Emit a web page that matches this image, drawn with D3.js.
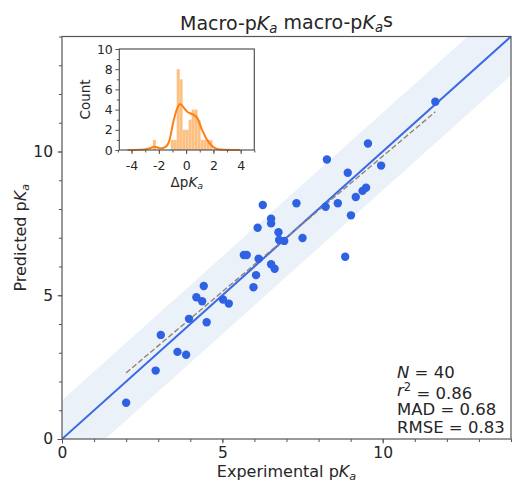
<!DOCTYPE html>
<html>
<head>
<meta charset="utf-8">
<script src="https://cdn.jsdelivr.net/npm/d3@7"></script>
<style>
  body { margin: 0; background: #fff; }
  svg { display: block; font-family: "DejaVu Sans", sans-serif; }
</style>
</head>
<body>
<div id="chart"></div>
<script>
// Experimental vs predicted pKa
const expPKa = [2.0, 2.92, 3.08, 3.6, 3.87, 3.96, 4.51, 4.19, 4.37, 4.42,
    5.02, 5.2, 5.97, 6.05, 6.52, 6.63, 5.67, 5.76, 6.13, 6.77,
    6.93, 6.75, 7.5, 6.1, 6.52, 6.52, 6.26, 7.31, 8.22, 8.6,
    8.83, 9.01, 9.16, 9.37, 9.48, 8.91, 8.26, 9.95, 9.54, 11.64];
const predPKa = [1.26, 2.38, 3.62, 3.03, 2.93, 4.18, 4.06, 4.93, 4.79, 5.32,
    4.85, 4.71, 5.28, 5.70, 6.08, 5.92, 6.40, 6.40, 6.27, 6.92,
    6.89, 7.19, 6.99, 7.35, 7.50, 7.66, 8.14, 8.20, 8.08, 8.20,
    6.34, 7.78, 8.42, 8.63, 8.74, 9.26, 9.72, 9.51, 10.28, 11.73];

// fitted line end points (dashed)
const regX = [2.0, 11.64];
const regY = [2.3, 11.38];

// shaded band half width around y = x
const bandHalfWidth = 1.35;

// inset histogram of residuals
const binEdges = [-2.44, -2.22, -2.00, -1.78, -1.57, -1.35, -1.13, -0.91, -0.69, -0.47,
    -0.26, -0.04, 0.18, 0.40, 0.62, 0.84, 1.06, 1.28, 1.49, 1.71, 1.93];
const binCounts = [1, 0, 0, 0, 0, 0, 1, 1, 8, 7, 2, 2, 3, 4, 4, 3, 1, 1, 1, 1];
const kdeX = [-4.3, -3.1, -2.6, -2.37, -2.1, -1.88, -1.5, -1.26, -0.9, -0.66,
    -0.42, -0.17, 0.07, 0.44, 0.8, 1.17, 1.54, 1.9, 2.27, 2.75, 3.97];
const kdeY = [0, 0.05, 0.2, 0.33, 0.25, 0.15, 0.3, 0.8, 3.0, 4.1,
    4.55, 4.2, 3.8, 3.56, 3.2, 2.0, 1.0, 0.4, 0.1, 0.02, 0];

const mainTicks = [0, 5, 10];
const insetXTicks = [-4, -2, 0, 2, 4];
const insetYTicks = [0, 2, 4, 6, 8, 10];

const stats = [
    { label: 'N', italic: true, value: '40' },
    { label: 'r', italic: true, sup: '2', value: '0.86' },
    { label: 'MAD', value: '0.68' },
    { label: 'RMSE', value: '0.83' }
];

const W = 512, H = 484;
const axColor = '#555';
const textColor = '#262626';
const blue = '#2f62e3';

const svg = d3.select('#chart').append('svg')
    .attr('width', W)
    .attr('height', H);

// helper for "pKa" style labels
function pKa(sel, prefix, suffix) {
    sel.append('tspan').text(prefix + 'p');
    sel.append('tspan').attr('font-style', 'italic').text('K');
    sel.append('tspan').attr('font-style', 'italic').attr('font-size', '0.7em')
        .attr('dy', '0.25em').text('a');
    if (suffix) sel.append('tspan').attr('dy', '-0.25em').text(suffix);
}

// main axes
const x = d3.scaleLinear().domain([0, 14]).range([62, 511]);
const y = d3.scaleLinear().domain([0, 14]).range([439, 36.5]);

svg.append('defs').append('clipPath').attr('id', 'clip')
    .append('rect')
    .attr('x', x(0)).attr('y', y(14))
    .attr('width', x(14) - x(0)).attr('height', y(0) - y(14));

const plot = svg.append('g').attr('clip-path', 'url(#clip)');

// band around identity
plot.append('path')
    .datum([0, 14])
    .attr('fill', '#ebf1f9')
    .attr('d', d3.area()
        .x(d => x(d))
        .y0(d => y(d - bandHalfWidth))
        .y1(d => y(d + bandHalfWidth)));

// identity line
plot.append('line')
    .attr('x1', x(0)).attr('y1', y(0))
    .attr('x2', x(14)).attr('y2', y(14))
    .attr('stroke', '#3b68e4')
    .attr('stroke-width', 2);

// regression (dashed)
plot.append('line')
    .attr('x1', x(regX[0])).attr('y1', y(regY[0]))
    .attr('x2', x(regX[1])).attr('y2', y(regY[1]))
    .attr('stroke', '#8f8575')
    .attr('stroke-width', 1.4)
    .attr('stroke-dasharray', '5.5,2.4');

// points
plot.selectAll('.dot')
    .data(expPKa)
    .enter()
    .append('circle')
    .attr('class', 'dot')
    .attr('cx', d => x(d))
    .attr('cy', (d, i) => y(predPKa[i]))
    .attr('r', 4.2)
    .attr('fill', blue);

// axis ticks
const xAxis = svg.append('g')
    .attr('transform', `translate(0,${y(0)})`)
    .call(d3.axisBottom(x).tickValues(mainTicks).tickSize(4.5).tickPadding(3.5));
svg.append('g')
    .attr('transform', `translate(0,${y(0)})`)
    .call(d3.axisBottom(x).tickValues(d3.range(0, 15)).tickSize(3).tickFormat(''));
const yAxis = svg.append('g')
    .attr('transform', `translate(${x(0)},0)`)
    .call(d3.axisLeft(y).tickValues(mainTicks).tickSize(4.5).tickPadding(4.5));
svg.append('g')
    .attr('transform', `translate(${x(0)},0)`)
    .call(d3.axisLeft(y).tickValues(d3.range(0, 15)).tickSize(3).tickFormat(''));

svg.selectAll('.domain').remove();
svg.selectAll('.tick line').attr('stroke', axColor);
[xAxis, yAxis].forEach(a => a.selectAll('text')
    .attr('fill', textColor)
    .style('font-size', '15.5px')
    .style('font-family', 'DejaVu Sans'));

// frame
svg.append('rect')
    .attr('x', x(0)).attr('y', y(14))
    .attr('width', x(14) - x(0)).attr('height', y(0) - y(14))
    .attr('fill', 'none')
    .attr('stroke', axColor)
    .attr('stroke-width', 1.2);

// labels
svg.append('text')
    .attr('x', (x(0) + x(14)) / 2).attr('y', 477)
    .attr('text-anchor', 'middle')
    .attr('font-size', 16)
    .attr('fill', textColor)
    .call(pKa, 'Experimental ');

svg.append('text')
    .attr('transform', `translate(26,${(y(0) + y(14)) / 2}) rotate(-90)`)
    .attr('text-anchor', 'middle')
    .attr('font-size', 16)
    .attr('fill', textColor)
    .call(pKa, 'Predicted ');

const title = svg.append('text')
    .attr('x', (x(0) + x(14)) / 2).attr('y', 30)
    .attr('text-anchor', 'middle')
    .attr('font-size', 19)
    .attr('fill', textColor);
pKa(title, 'Macro-', ' macro-');
title.append('tspan').text('p');
title.append('tspan').attr('font-style', 'italic').text('K');
title.append('tspan').attr('font-style', 'italic').attr('font-size', '0.7em')
    .attr('dy', '0.25em').text('a');
title.append('tspan').attr('dy', '-0.25em').text('s');

// stats box
const statText = svg.append('text')
    .attr('font-size', 16.5)
    .attr('fill', textColor);
stats.forEach((s, i) => {
    const line = statText.append('tspan')
        .attr('x', 397)
        .attr('y', 378 + i * 18.4);
    line.append('tspan').attr('font-style', s.italic ? 'italic' : 'normal').text(s.label);
    if (s.sup) {
        line.append('tspan').attr('font-size', '0.7em').attr('dy', '-0.45em').text(s.sup);
        line.append('tspan').attr('dy', '0.45em').text(' = ' + s.value);
    } else {
        line.append('tspan').text(' = ' + s.value);
    }
});

// inset histogram
const ix = d3.scaleLinear().domain([-4.9, 5.0]).range([119.3, 254.3]);
const iy = d3.scaleLinear().domain([0, 10]).range([150, 49]);

const inset = svg.append('g');
inset.append('rect')
    .attr('x', ix.range()[0]).attr('y', iy(10))
    .attr('width', ix.range()[1] - ix.range()[0]).attr('height', iy(0) - iy(10))
    .attr('fill', '#fff');

inset.selectAll('.bar')
    .data(binCounts)
    .enter()
    .append('rect')
    .attr('class', 'bar')
    .attr('x', (d, i) => ix(binEdges[i]))
    .attr('width', (d, i) => ix(binEdges[i + 1]) - ix(binEdges[i]))
    .attr('y', d => iy(d))
    .attr('height', d => iy(0) - iy(d))
    .attr('fill', '#fcc083');

inset.append('path')
    .datum(kdeX.map((d, i) => [d, kdeY[i]]))
    .attr('fill', 'none')
    .attr('stroke', '#ff7f0e')
    .attr('stroke-width', 2)
    .attr('d', d3.line().x(d => ix(d[0])).y(d => iy(d[1])).curve(d3.curveMonotoneX));

const ixAxis = inset.append('g')
    .attr('transform', `translate(0,${iy(0)})`)
    .call(d3.axisBottom(ix).tickValues(insetXTicks).tickSize(4).tickPadding(7));
inset.append('g')
    .attr('transform', `translate(0,${iy(0)})`)
    .call(d3.axisBottom(ix).tickValues(d3.range(-5, 6)).tickSize(2.5).tickFormat(''));
const iyAxis = inset.append('g')
    .attr('transform', `translate(${ix.range()[0]},0)`)
    .call(d3.axisLeft(iy).tickValues(insetYTicks).tickSize(4).tickPadding(2.5));
inset.append('g')
    .attr('transform', `translate(${ix.range()[0]},0)`)
    .call(d3.axisLeft(iy).tickValues(d3.range(1, 10, 2)).tickSize(2.5).tickFormat(''));

inset.selectAll('.domain').remove();
inset.selectAll('.tick line').attr('stroke', axColor);
[ixAxis, iyAxis].forEach(a => a.selectAll('text')
    .attr('fill', textColor)
    .style('font-size', '12.5px')
    .style('font-family', 'DejaVu Sans'));
ixAxis.selectAll('text').text(d => d < 0 ? '-' + Math.abs(d) : d);

inset.append('rect')
    .attr('x', ix.range()[0]).attr('y', iy(10))
    .attr('width', ix.range()[1] - ix.range()[0]).attr('height', iy(0) - iy(10))
    .attr('fill', 'none')
    .attr('stroke', axColor)
    .attr('stroke-width', 1.2);

const dLabel = inset.append('text')
    .attr('x', (ix.range()[0] + ix.range()[1]) / 2).attr('y', 187)
    .attr('text-anchor', 'middle')
    .attr('font-size', 13.5)
    .attr('fill', textColor);
pKa(dLabel, 'Δ');

inset.append('text')
    .attr('transform', `translate(90,${(iy(0) + iy(10)) / 2}) rotate(-90)`)
    .attr('text-anchor', 'middle')
    .attr('font-size', 13.5)
    .attr('fill', textColor)
    .text('Count');
</script>
</body>
</html>
